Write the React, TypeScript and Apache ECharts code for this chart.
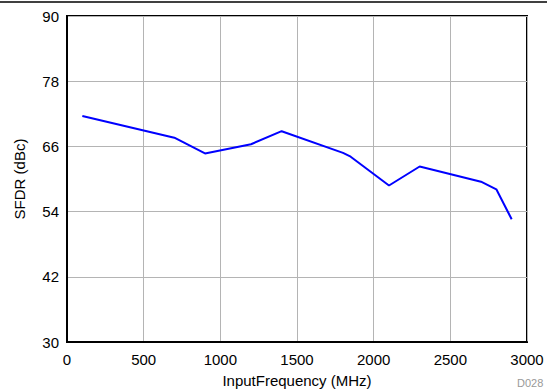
import React, { useEffect, useRef } from "react";
import * as echarts from "echarts";

// SFDR versus input frequency
const inputFrequencyMHz = [100, 700, 900, 1200, 1400, 1800, 1850, 2100, 2300, 2700, 2800, 2900];
const sfdrDbc = [71.6, 67.6, 64.7, 66.4, 68.8, 64.8, 64.1, 58.8, 62.3, 59.5, 58.1, 52.6];

const xTicks = [0, 500, 1000, 1500, 2000, 2500, 3000];
const yTicks = [30, 42, 54, 66, 78, 90];

export default function App() {
  const ref = useRef<HTMLDivElement>(null);

  useEffect(() => {
    document.body.style.margin = "0";
    const chart = echarts.init(ref.current!, null, { renderer: "svg" });
    const font = "Liberation Sans, Arial, sans-serif";
    chart.setOption({
      animation: false,
      backgroundColor: "#fff",
      grid: {
        left: 67,
        right: 20,
        top: 16,
        bottom: 48,
        outerBoundsMode: "none",
        containLabel: false,
        show: true,
        borderColor: "#000",
        borderWidth: 2,
        backgroundColor: "transparent",
      },
      xAxis: {
        type: "value",
        min: xTicks[0],
        max: xTicks[xTicks.length - 1],
        interval: 500,
        name: "InputFrequency (MHz)",
        nameLocation: "middle",
        nameGap: 31,
        nameTextStyle: { color: "#000", fontSize: 15, fontFamily: font },
        axisLine: { lineStyle: { color: "#000", width: 2 } },
        axisTick: { show: false },
        axisLabel: {
          color: "#000",
          fontSize: 15,
          fontFamily: font,
          margin: 10,
          formatter: (v: number) => String(v),
        },
        splitLine: { lineStyle: { color: "#b4b4b4", width: 1 } },
      },
      yAxis: {
        type: "value",
        min: yTicks[0],
        max: yTicks[yTicks.length - 1],
        interval: 12,
        name: "SFDR (dBc)",
        nameLocation: "middle",
        nameGap: 40,
        nameTextStyle: { color: "#000", fontSize: 15, fontFamily: font },
        axisLine: { lineStyle: { color: "#000", width: 2 } },
        axisTick: { show: false },
        axisLabel: {
          color: "#000",
          fontSize: 15,
          fontFamily: font,
          margin: 8,
          formatter: (v: number) => String(v),
        },
        splitLine: { lineStyle: { color: "#b4b4b4", width: 1 } },
      },
      graphic: [
        {
          type: "line",
          shape: { x1: 0, y1: 2, x2: 547, y2: 2 },
          style: { stroke: "#000", lineWidth: 1.5 },
        },
        {
          type: "text",
          x: 517,
          y: 377,
          style: { text: "D028", fill: "#999", fontSize: 11, fontFamily: font },
        },
      ],
      series: [
        {
          type: "line",
          data: inputFrequencyMHz.map((f, i) => [f, sfdrDbc[i]]),
          showSymbol: false,
          lineStyle: { color: "#0000ff", width: 2 },
          itemStyle: { color: "#0000ff" },
        },
      ],
    });
    return () => chart.dispose();
  }, []);

  return <div ref={ref} style={{ width: 547, height: 390 }} />;
}
